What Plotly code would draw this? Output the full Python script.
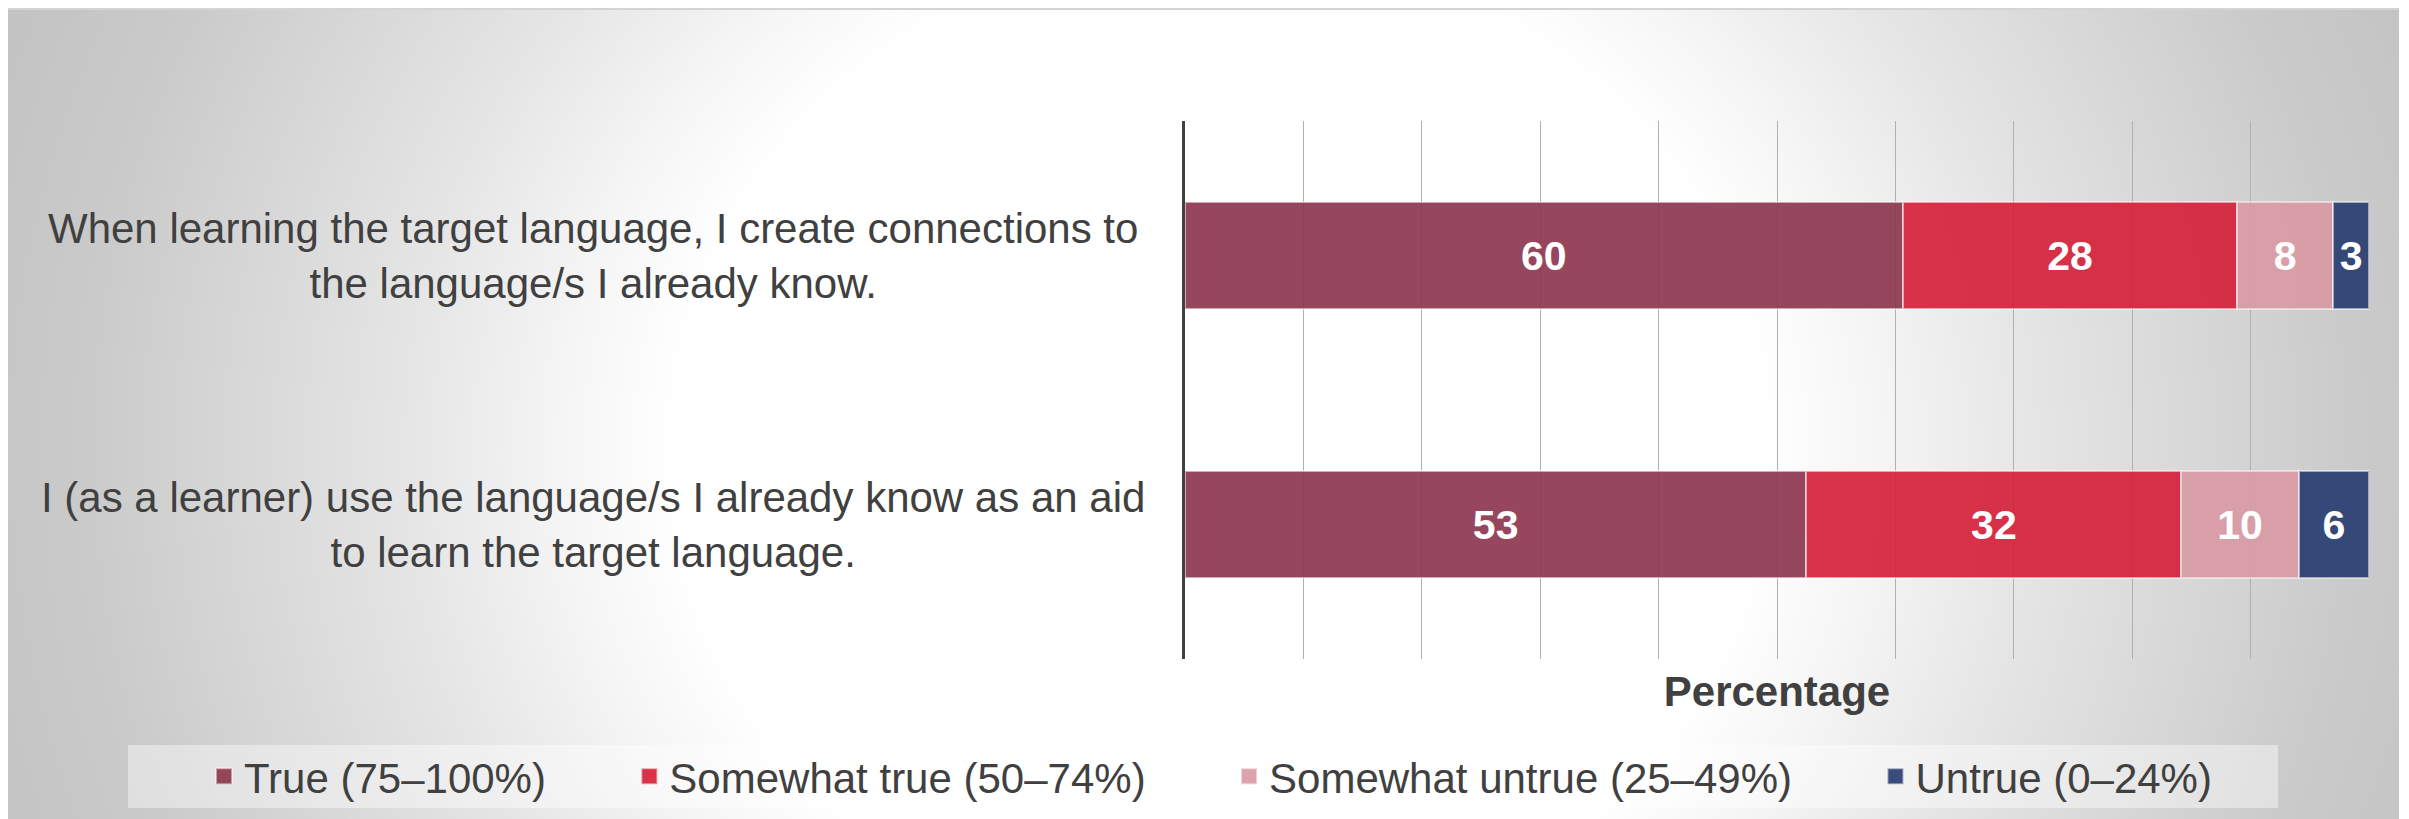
import base64
import plotly.graph_objects as go

# ---- data ----
categories = [
    "When learning the target language, I create connections to<br>the language/s I already know.",
    "I (as a learner) use the language/s I already know as an aid<br>to learn the target language.",
]
category_ids = ["Q1", "Q2"]
series_names = ["True (75–100%)", "Somewhat true (50–74%)", "Somewhat untrue (25–49%)", "Untrue (0–24%)"]
true_vals = [60, 53]
somewhat_true_vals = [28, 32]
somewhat_untrue_vals = [8, 10]
untrue_vals = [3, 6]
series_values = [true_vals, somewhat_true_vals, somewhat_untrue_vals, untrue_vals]
series_colors = ["#8b344d", "#d61e38", "#da9aa5", "#253b70"]

# figure geometry (page has an 8px body margin)
W, H = 2392, 811
ML, MR, MT, MB = 1177, 31, 113, 160
PW = W - ML - MR
PH = H - MT - MB


def px_x(px):
    return (px - ML) / PW


def px_y(py):
    return (H - MB - py) / PH


NBSP = "\u00a0"
legend_pad = [NBSP * 6 + "\u2009", NBSP * 6 + "\u2009", NBSP * 6 + "\u2009", ""]

fig = go.Figure()
for name, vals, col in zip(series_names, series_values, series_colors):
    fig.add_trace(go.Bar(
        y=category_ids, x=vals, name=name, orientation="h", showlegend=False,
        marker=dict(color=col, opacity=0.9, line=dict(color="rgba(255,255,255,0.55)", width=2)),
        text=[str(v) for v in vals], texttemplate="%{text}",
        textposition="inside", insidetextanchor="middle", constraintext="none",
        textfont=dict(family="Arial", size=41, color="white", weight="bold"),
        hoverinfo="skip",
    ))

# legend entries (larger square swatches, like the reference)
for name, col, pad in zip(series_names, series_colors, legend_pad):
    fig.add_trace(go.Scatter(
        x=[None], y=[None], mode="markers", name=name + pad, showlegend=True,
        marker=dict(symbol="square", size=16, color=col, opacity=0.9,
                    line=dict(color="rgba(255,255,255,0.5)", width=2)),
        hoverinfo="skip",
    ))

# background: elliptical radial gradient, white centre, grey edges
bw, bh = 2391, 811
cx, cy, R = 1212, 442, 1323
svg = f"""<svg xmlns='http://www.w3.org/2000/svg' width='{bw}' height='{bh}' viewBox='0 0 {bw} {bh}' preserveAspectRatio='none'>
<defs><radialGradient id='g' gradientUnits='userSpaceOnUse' cx='{cx}' cy='{cy}' r='{R}' fx='{cx}' fy='{cy}'
 gradientTransform='translate({cx} {cy}) scale(1 0.917) translate({-cx} {-cy})'>
<stop offset='0' stop-color='#ffffff'/>
<stop offset='0.41' stop-color='#ffffff'/>
<stop offset='0.49' stop-color='#f6f6f6'/>
<stop offset='0.61' stop-color='#e6e6e6'/>
<stop offset='0.735' stop-color='#d8d8d8'/>
<stop offset='0.86' stop-color='#cacaca'/>
<stop offset='1' stop-color='#c2c2c2'/>
</radialGradient></defs>
<rect width='{bw}' height='{bh}' fill='url(#g)'/>
<rect x='0' y='0' width='{bw}' height='2' fill='#d4d4d4'/>
</svg>"""
src = "data:image/svg+xml;base64," + base64.b64encode(svg.encode()).decode()
fig.add_layout_image(dict(
    source=src, xref="paper", yref="paper",
    x=px_x(0), y=px_y(0), sizex=bw / PW, sizey=bh / PH,
    xanchor="left", yanchor="top", sizing="stretch", layer="below",
))

# legend backdrop box
fig.add_shape(type="rect", xref="paper", yref="paper",
              x0=px_x(120), x1=px_x(2270), y0=px_y(800), y1=px_y(737),
              fillcolor="rgba(255,255,255,0.42)", line=dict(width=0), layer="below")

for cid, label in zip(category_ids, categories):
    fig.add_annotation(
        x=px_x(585), xref="paper", y=cid, yref="y",
        text=label, showarrow=False, xanchor="center", yanchor="middle", align="center",
        font=dict(family="Arial", size=42, color="#404040"),
    )

fig.update_layout(
    width=W, height=H,
    margin=dict(l=ML, r=MR, t=MT, b=MB, autoexpand=False),
    paper_bgcolor="white", plot_bgcolor="rgba(0,0,0,0)",
    barmode="stack", barnorm="percent", bargap=0.605,
    font=dict(family="Arial", color="#404040"),
    xaxis=dict(range=[0, 100], dtick=10, showgrid=True, gridcolor="#b0b0b0", gridwidth=1,
               showticklabels=False, zeroline=False, showline=False, fixedrange=True,
               title=dict(text="Percentage", standoff=17,
                          font=dict(family="Arial", size=42, color="#404040", weight="bold"))),
    yaxis=dict(showticklabels=False, showgrid=False, autorange="reversed",
               showline=True, linecolor="#404040", linewidth=3, zeroline=False),
    legend=dict(orientation="h", xref="paper", yref="paper",
                x=px_x(196), xanchor="left", y=px_y(768.5), yanchor="middle",
                traceorder="normal", bgcolor="rgba(0,0,0,0)", itemsizing="trace",
                font=dict(family="Arial", size=42, color="#404040")),
    showlegend=True,
)

fig.write_html("out.html")
